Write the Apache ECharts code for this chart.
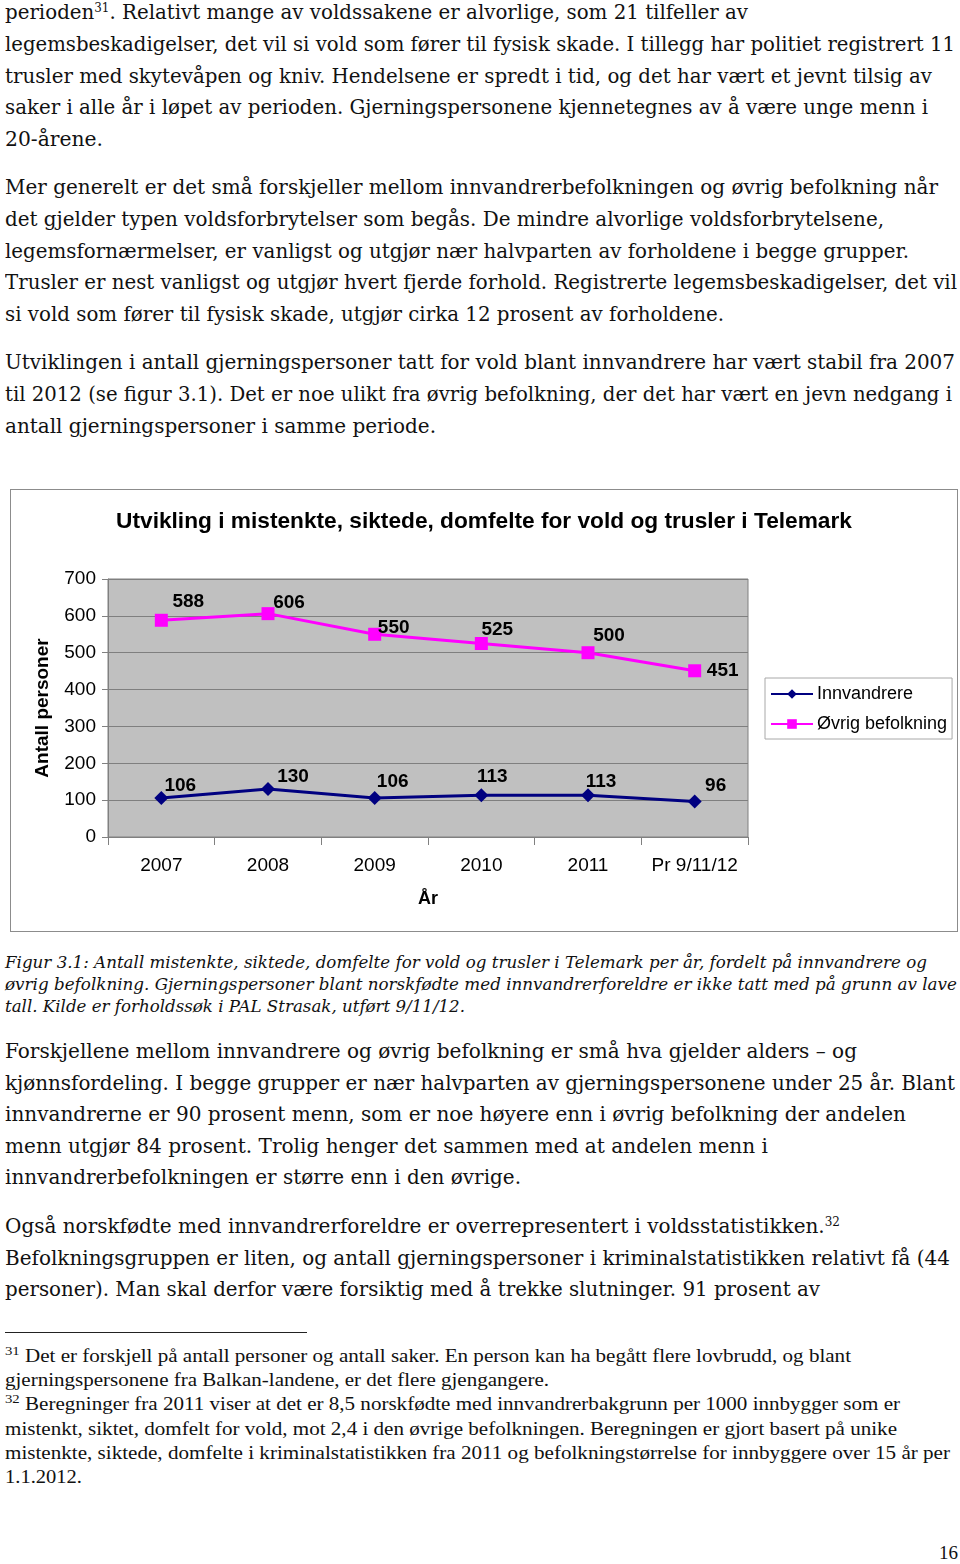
<!DOCTYPE html>
<html>
<head>
<meta charset="utf-8">
<script src="https://cdn.jsdelivr.net/npm/echarts@6/dist/echarts.min.js"></script>
<style>
  html, body { margin: 0; padding: 0; background: #fff; }
  body { width: 960px; height: 1564px; position: relative; overflow: hidden; }
  .ln { position: absolute; white-space: nowrap; color: #111; transform-origin: 0 50%; }
  .body { font-family: "DejaVu Serif", serif; font-size: 20px; line-height: 30px; }
  .cap { font-family: "DejaVu Serif", serif; font-style: italic; font-size: 17px; line-height: 22px; }
  .fn { font-family: "Liberation Serif", serif; font-size: 19px; line-height: 24px; }
  sup { font-size: 60%; line-height: 0; vertical-align: 0.55em; }
  .fn sup { font-size: 70%; }
  #chartbox { position: absolute; left: 10px; top: 489px; width: 946px; height: 441px; border: 1px solid #8c8c8c; }
  #chart { width: 946px; height: 441px; }
  #rule { position: absolute; left: 5px; top: 1332px; width: 302px; height: 1px; background: #222; }
</style>
</head>
<body>
<div id="text"></div>
<div id="chartbox"><div id="chart"></div></div>
<div id="rule"></div>
<script>
// ---- chart data ----
const categories = ['2007', '2008', '2009', '2010', '2011', 'Pr 9/11/12'];
const innvandrere = [106, 130, 106, 113, 113, 96];
const ovrigBefolkning = [588, 606, 550, 525, 500, 451];
const yTicks = [0, 100, 200, 300, 400, 500, 600, 700];
const chartTitle = 'Utvikling i mistenkte, siktede, domfelte for vold og trusler i Telemark';
const yAxisName = 'Antall personer';
const xAxisName = 'År';
const seriesNames = ['Innvandrere', 'Øvrig befolkning'];

// ---- page text lines: [class, centerY, rightEdge, html] ----
const textLines = [
  ['body', 12, 748, 'perioden<sup>31</sup>. Relativt mange av voldssakene er alvorlige, som 21 tilfeller av'],
  ['body', 44, 955, 'legemsbeskadigelser, det vil si vold som fører til fysisk skade. I tillegg har politiet registrert 11'],
  ['body', 76, 932, 'trusler med skytevåpen og kniv. Hendelsene er spredt i tid, og det har vært et jevnt tilsig av'],
  ['body', 107, 928, 'saker i alle år i løpet av perioden. Gjerningspersonene kjennetegnes av å være unge menn i'],
  ['body', 139, 103, '20-årene.'],
  ['body', 187, 938, 'Mer generelt er det små forskjeller mellom innvandrerbefolkningen og øvrig befolkning når'],
  ['body', 219, 884, 'det gjelder typen voldsforbrytelser som begås. De mindre alvorlige voldsforbrytelsene,'],
  ['body', 251, 909, 'legemsfornærmelser, er vanligst og utgjør nær halvparten av forholdene i begge grupper.'],
  ['body', 282, 957, 'Trusler er nest vanligst og utgjør hvert fjerde forhold. Registrerte legemsbeskadigelser, det vil'],
  ['body', 314, 724, 'si vold som fører til fysisk skade, utgjør cirka 12 prosent av forholdene.'],
  ['body', 362, 955, 'Utviklingen i antall gjerningspersoner tatt for vold blant innvandrere har vært stabil fra 2007'],
  ['body', 394, 952, 'til 2012 (se figur 3.1). Det er noe ulikt fra øvrig befolkning, der det har vært en jevn nedgang i'],
  ['body', 426, 436, 'antall gjerningspersoner i samme periode.'],
  ['cap', 962, 927, 'Figur 3.1: Antall mistenkte, siktede, domfelte for vold og trusler i Telemark per år, fordelt på innvandrere og'],
  ['cap', 984, 957, 'øvrig befolkning. Gjerningspersoner blant norskfødte med innvandrerforeldre er ikke tatt med på grunn av lave'],
  ['cap', 1006, 465, 'tall. Kilde er forholdssøk i PAL Strasak, utført 9/11/12.'],
  ['body', 1051, 857, 'Forskjellene mellom innvandrere og øvrig befolkning er små hva gjelder alders – og'],
  ['body', 1083, 955, 'kjønnsfordeling. I begge grupper er nær halvparten av gjerningspersonene under 25 år. Blant'],
  ['body', 1114, 906, 'innvandrerne er 90 prosent menn, som er noe høyere enn i øvrig befolkning der andelen'],
  ['body', 1146, 768, 'menn utgjør 84 prosent. Trolig henger det sammen med at andelen menn i'],
  ['body', 1177, 521, 'innvandrerbefolkningen er større enn i den øvrige.'],
  ['body', 1226, 840, 'Også norskfødte med innvandrerforeldre er overrepresentert i voldsstatistikken.<sup>32</sup>'],
  ['body', 1258, 950, 'Befolkningsgruppen er liten, og antall gjerningspersoner i kriminalstatistikken relativt få (44'],
  ['body', 1289, 820, 'personer). Man skal derfor være forsiktig med å trekke slutninger. 91 prosent av'],
  ['fn', 1356, 851, '<sup>31</sup> Det er forskjell på antall personer og antall saker. En person kan ha begått flere lovbrudd, og blant'],
  ['fn', 1380, 549, 'gjerningspersonene fra Balkan-landene, er det flere gjengangere.'],
  ['fn', 1404, 900, '<sup>32</sup> Beregninger fra 2011 viser at det er 8,5 norskfødte med innvandrerbakgrunn per 1000 innbygger som er'],
  ['fn', 1429, 897, 'mistenkt, siktet, domfelt for vold, mot 2,4 i den øvrige befolkningen. Beregningen er gjort basert på unike'],
  ['fn', 1453, 950, 'mistenkte, siktede, domfelte i kriminalstatistikken fra 2011 og befolkningstørrelse for innbyggere over 15 år per'],
  ['fn', 1477, 82, '1.1.2012.'],
  ['fn', 1553, 958, '16']
];

// build text
const textRoot = document.getElementById('text');
const leftEdge = { body: 5, cap: 5, fn: 5 };
const lh = { body: 30, cap: 22, fn: 24 };
textLines.forEach(function (t) {
  const d = document.createElement('div');
  d.className = 'ln ' + t[0];
  d.innerHTML = t[3];
  d.style.top = (t[1] - lh[t[0]] / 2) + 'px';
  textRoot.appendChild(d);
  const isPage = t[3] === '16';
  const w = d.getBoundingClientRect().width;
  if (isPage) {
    d.style.left = (t[2] - w) + 'px';
  } else {
    d.style.left = leftEdge[t[0]] + 'px';
    const target = t[2] - leftEdge[t[0]];
    d.style.transform = 'scaleX(' + (target / w) + ')';
  }
});

// ---- chart ----
const labelOffsetsOvrig = [[27, -19], [21, -11], [19, -7], [16, -14], [21, -17], [28, 0]];
const labelOffsetsInnv = [[19, -12], [25, -12], [18, -16], [11, -19], [13, -14], [21, -16]];
function withLabels(values, offsets) {
  return values.map(function (v, i) {
    return { value: v, label: { offset: offsets[i] } };
  });
}
const labelStyle = {
  show: true, position: 'inside', color: '#000',
  fontFamily: 'Liberation Sans, Arial, sans-serif', fontWeight: 'bold', fontSize: 19
};

const chart = echarts.init(document.getElementById('chart'), null, { renderer: 'canvas' });
chart.setOption({
  animation: false,
  textStyle: { fontFamily: 'Liberation Sans, Arial, sans-serif' },
  title: {
    text: chartTitle, left: 'center', top: 15,
    textStyle: { fontSize: 22.7, fontWeight: 'bold', color: '#000', fontFamily: 'Liberation Sans, Arial, sans-serif' }
  },
  legend: {
    orient: 'vertical', left: 754, top: 188,
    backgroundColor: '#fff', borderColor: '#a8a8a8', borderWidth: 1,
    padding: [7, 5, 6, 5], itemWidth: 42, itemHeight: 12, itemGap: 12,
    textStyle: { fontSize: 18, color: '#000', padding: [0, 0, 0, -1] },
    data: seriesNames
  },
  grid: { left: 97, top: 89, width: 640, height: 258, show: true, backgroundColor: '#c0c0c0', borderColor: '#808080', borderWidth: 1 },
  xAxis: {
    type: 'category', data: categories, boundaryGap: true,
    name: xAxisName, nameLocation: 'middle', nameGap: 53,
    nameTextStyle: { fontSize: 18, fontWeight: 'bold', color: '#000' },
    axisLine: { lineStyle: { color: '#808080', width: 1 } },
    axisTick: { show: true, interval: 0, length: 8, lineStyle: { color: '#808080' } },
    axisLabel: { interval: 0, fontSize: 19, color: '#000', margin: 19, hideOverlap: false }
  },
  yAxis: {
    type: 'value', min: yTicks[0], max: yTicks[yTicks.length - 1], interval: yTicks[1] - yTicks[0],
    name: yAxisName, nameLocation: 'middle', nameGap: 56, nameRotate: 90,
    nameTextStyle: { fontSize: 19, fontWeight: 'bold', color: '#000' },
    axisLine: { show: true, lineStyle: { color: '#808080' } },
    axisTick: { show: true, length: 6, lineStyle: { color: '#808080' } },
    axisLabel: { fontSize: 19, color: '#000', margin: 12 },
    splitLine: { show: true, lineStyle: { color: '#7f7f7f', width: 1 } }
  },
  series: [
    {
      name: seriesNames[0], type: 'line', data: withLabels(innvandrere, labelOffsetsInnv),
      symbol: 'diamond', symbolSize: 14, itemStyle: { color: '#000080' },
      lineStyle: { color: '#000080', width: 3 }, label: labelStyle, z: 3
    },
    {
      name: seriesNames[1], type: 'line', data: withLabels(ovrigBefolkning, labelOffsetsOvrig),
      symbol: 'rect', symbolSize: 13, itemStyle: { color: '#ff00ff' },
      lineStyle: { color: '#ff00ff', width: 3 }, label: labelStyle, z: 3
    }
  ]
});
</script>
</body>
</html>
